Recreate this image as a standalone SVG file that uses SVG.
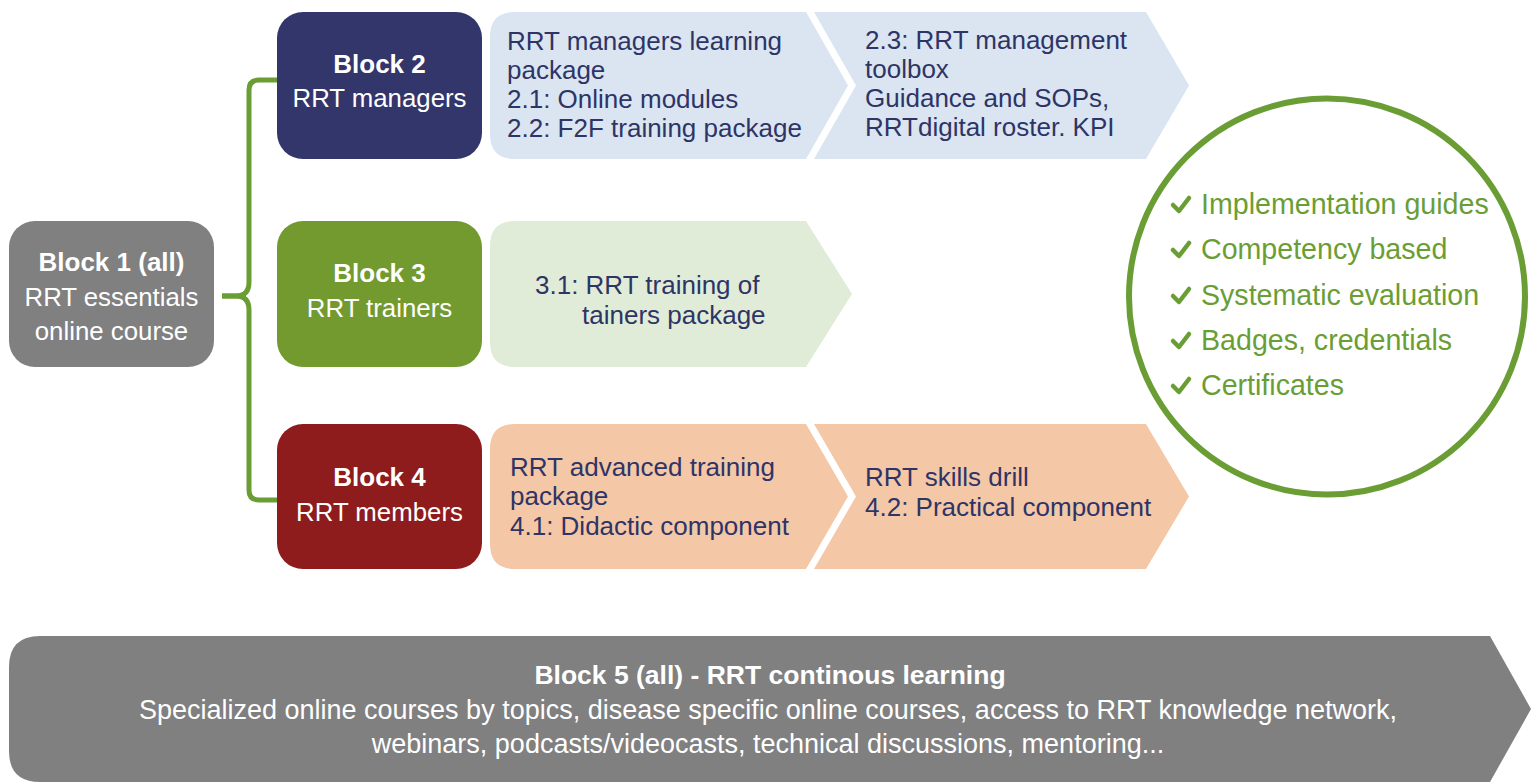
<svg xmlns="http://www.w3.org/2000/svg" width="1531" height="782" viewBox="0 0 1531 782">
  <style>
    .t { font-family: "Liberation Sans", Arial, sans-serif; font-size: 26px; }
    .w { fill: #ffffff; }
    .blk { font-size: 25.8px; }
    .b { font-weight: bold; font-size: 26px; }
    .n { fill: #2e3466; }
    .g { fill: #6a9e35; font-size: 28.6px; }
    .head { font-size: 26.5px; }
    .wide { font-size: 27px; }
    .mid { text-anchor: middle; }
    .link { fill: none; stroke: #6a9e35; stroke-width: 5; }
    .chk { fill: none; stroke: #6a9e35; stroke-width: 4.5; stroke-linecap: round; stroke-linejoin: round; }
  </style>
  <rect width="1531" height="782" fill="#ffffff"/>

  <!-- curly brace linking block 1 to blocks 2-4 -->
  <g id="connectors">
    <path class="link" d="M277,80 H259 Q249,80 249,90 V282 Q249,296 236,296 H222"/>
    <path class="link" d="M222,296 H236 Q249,296 249,310 V490 Q249,500 259,500 H277"/>
  </g>

  <g id="block1">
    <rect x="9" y="221" width="205" height="146" rx="26" fill="#808080"/>
    <text class="t w b mid" x="111.5" y="271">Block 1 (all)</text>
    <text class="t w blk mid" x="111.5" y="306">RRT essentials</text>
    <text class="t w blk mid" x="111.5" y="340">online course</text>
  </g>

  <g id="block2">
    <rect x="277" y="12" width="205" height="147" rx="26" fill="#32366a"/>
    <text class="t w b mid" x="379.5" y="73">Block 2</text>
    <text class="t w blk mid" x="379.5" y="107">RRT managers</text>
  </g>

  <g id="block3">
    <rect x="277" y="221" width="205" height="146" rx="26" fill="#729a2f"/>
    <text class="t w b mid" x="379.5" y="282">Block 3</text>
    <text class="t w blk mid" x="379.5" y="317">RRT trainers</text>
  </g>

  <g id="block4">
    <rect x="277" y="424" width="205" height="145" rx="26" fill="#8f1c1c"/>
    <text class="t w b mid" x="379.5" y="486">Block 4</text>
    <text class="t w blk mid" x="379.5" y="521">RRT members</text>
  </g>

  <g id="pkg21">
    <path d="M515,12 H806 L848,85.5 L806,159 H515 Q490,159 490,134 V37 Q490,12 515,12 Z" fill="#dae5f1"/>
    <text class="t n" x="507" y="50">RRT managers learning</text>
    <text class="t n" x="507" y="79">package</text>
    <text class="t n" x="507" y="108">2.1: Online modules</text>
    <text class="t n" x="507" y="137">2.2: F2F training package</text>
  </g>

  <g id="pkg23">
    <path d="M814,12 H1146 L1189,85.5 L1146,159 H814 L856,85.5 Z" fill="#dae5f1"/>
    <text class="t n" x="865" y="49">2.3: RRT management</text>
    <text class="t n" x="865" y="78">toolbox</text>
    <text class="t n" x="865" y="107">Guidance and SOPs,</text>
    <text class="t n" x="865" y="136">RRTdigital roster. KPI</text>
  </g>

  <g id="pkg31">
    <path d="M515,221 H806 L852,294 L806,367 H515 Q490,367 490,342 V246 Q490,221 515,221 Z" fill="#e1ecd8"/>
    <text class="t n" x="535" y="294">3.1: RRT training of</text>
    <text class="t n" x="582" y="324">tainers package</text>
  </g>

  <g id="pkg41">
    <path d="M515,424 H806 L848,496.5 L806,569 H515 Q490,569 490,544 V449 Q490,424 515,424 Z" fill="#f4c7a7"/>
    <text class="t n" x="510" y="476">RRT advanced training</text>
    <text class="t n" x="510" y="505">package</text>
    <text class="t n" x="510" y="535">4.1: Didactic component</text>
  </g>

  <g id="pkg42">
    <path d="M814,424 H1146 L1189,496.5 L1146,569 H814 L856,496.5 Z" fill="#f4c7a7"/>
    <text class="t n" x="865" y="486">RRT skills drill</text>
    <text class="t n" x="865" y="516">4.2: Practical component</text>
  </g>

  <g id="features">
    <circle cx="1327" cy="296.5" r="198" fill="none" stroke="#6a9e35" stroke-width="6"/>
    <path class="chk" d="M1173,205 L1179,211 L1189,198"/>
    <path class="chk" d="M1173,250 L1179,256 L1189,243"/>
    <path class="chk" d="M1173,296 L1179,302 L1189,289"/>
    <path class="chk" d="M1173,341 L1179,347 L1189,334"/>
    <path class="chk" d="M1173,386 L1179,392 L1189,379"/>
    <text class="t g" x="1201" y="214">Implementation guides</text>
    <text class="t g" x="1201" y="259">Competency based</text>
    <text class="t g" x="1201" y="305">Systematic evaluation</text>
    <text class="t g" x="1201" y="350">Badges, credentials</text>
    <text class="t g" x="1201" y="395">Certificates</text>
  </g>

  <g id="block5">
    <path d="M40,636 H1490 L1531,709 L1490,782 H40 Q9,782 9,751 V667 Q9,636 40,636 Z" fill="#808080"/>
    <text class="t w b head mid" x="770" y="684">Block 5 (all) - RRT continous learning</text>
    <text class="t w wide mid" x="768" y="719">Specialized online courses by topics, disease specific online courses, access to RRT knowledge network,</text>
    <text class="t w wide mid" x="768" y="753">webinars, podcasts/videocasts, technical discussions, mentoring...</text>
  </g>
</svg>
